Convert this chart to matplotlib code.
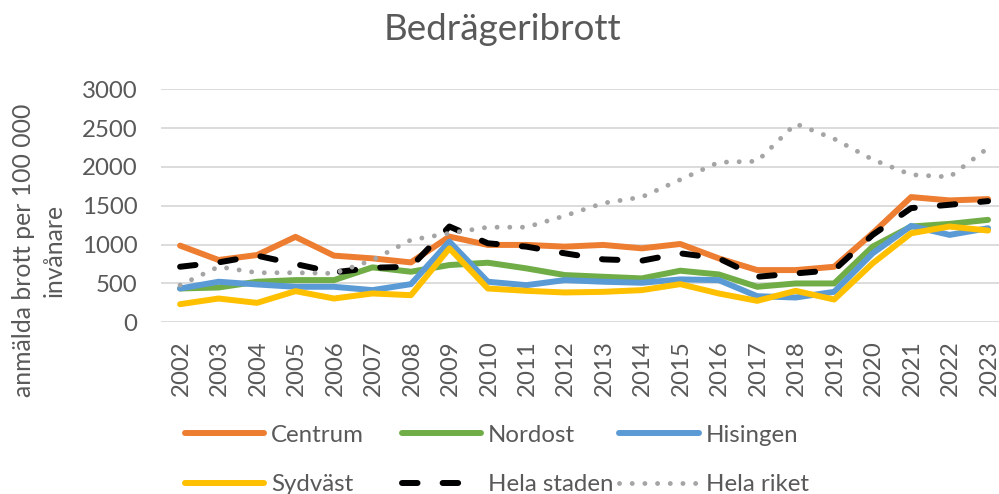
import numpy as np
import matplotlib
matplotlib.use("Agg")
from matplotlib import pyplot as plt
from matplotlib import transforms

years = [str(y) for y in range(2002, 2024)]

centrum = [987, 802, 866, 1100, 858, 823, 771, 1103, 996, 996, 974,
           996, 952, 1008, 823, 672, 672, 715, 1146, 1612, 1569, 1586]
nordost = [435, 448, 522, 543, 543, 707, 651, 737, 767, 694, 608,
           586, 565, 664, 616, 457, 500, 500, 974, 1233, 1267, 1319]
hisingen = [435, 522, 487, 457, 457, 414, 491, 1039, 522, 478, 543,
            522, 509, 552, 543, 336, 319, 392, 888, 1241, 1125, 1211]
sydvast = [233, 306, 250, 401, 306, 371, 349, 952, 435, 405, 384,
           392, 414, 491, 371, 276, 405, 293, 759, 1146, 1233, 1181]
hela_staden = [715, 771, 858, 750, 642, 702, 715, 1233, 1017, 974, 888,
               810, 793, 888, 823, 586, 629, 672, 1125, 1470, 1513, 1560]
hela_riket = [478, 715, 638, 638, 629, 801, 1060, 1146, 1224, 1224, 1371,
              1534, 1612, 1836, 2060, 2073, 2556, 2362, 2095, 1900, 1871, 2245]

TXT = "#595959"
FS = 17.3
plt.rcParams['font.family'] = ['Lato', 'DejaVu Sans']

fig = plt.figure(figsize=(9.99, 4.94), dpi=100)
ax = fig.add_axes([0.161, 0.3476, 0.8473, 0.4717])

x = np.arange(len(years))
lw = 4.3
l1, = ax.plot(x, centrum, color="#ED7D31", lw=lw, solid_capstyle="round", label="Centrum")
l2, = ax.plot(x, nordost, color="#70AD47", lw=lw, solid_capstyle="round", label="Nordost")
l3, = ax.plot(x, hisingen, color="#5B9BD5", lw=lw, solid_capstyle="round", label="Hisingen")
l4, = ax.plot(x, sydvast, color="#FFC000", lw=lw, solid_capstyle="round", label="Sydväst")
l5, = ax.plot(x, hela_staden, color="black", lw=lw, linestyle=(0, (2.6, 4.2)),
              dash_capstyle="round", label="Hela staden")
l6, = ax.plot(x, hela_riket, color="#A5A5A5", lw=3.5, linestyle=(0, (0.01, 2.6)),
              dash_capstyle="round", label="Hela riket")

ax.set_xlim(-0.5, 21.5)
ax.set_ylim(0, 3000)
ax.set_yticks(range(0, 3001, 500))
ax.set_xticks(x)
ax.set_xticklabels(years, rotation=90)
ax.grid(axis="y", color="#D9D9D9", lw=1.3)
ax.set_axisbelow(True)
for s in ax.spines.values():
    s.set_visible(False)
ax.tick_params(axis="both", length=0, labelsize=FS, labelcolor=TXT)
ax.tick_params(axis="y", pad=17)
ax.tick_params(axis="x", pad=13)
off = transforms.ScaledTranslation(1 / 100, 0, fig.dpi_scale_trans)
for lab in ax.get_xticklabels():
    lab.set_transform(lab.get_transform() + off)

fig.text(0.503, 0.94, "Bedrägeribrott", ha="center", va="center",
         fontsize=26.5, color=TXT)
fig.text(0.039, 0.494, "anmälda brott per 100 000\ninvånare", rotation=90,
         ha="center", va="center", multialignment="center",
         fontsize=FS + 0.5, color=TXT, linespacing=1.4)

# one legend per column so the columns sit where the reference has them
cols = [([l1, l4], 0.185), ([l2, l5], 0.402), ([l3, l6], 0.620)]
for handles, xpos in cols:
    leg = fig.legend(handles=handles, loc="center left",
                     bbox_to_anchor=(xpos, 1 - 460 / 494),
                     bbox_transform=fig.transFigure, ncol=1, frameon=False,
                     fontsize=FS, handlelength=3.3, handletextpad=0.3,
                     labelspacing=1.2, borderpad=0, borderaxespad=0)
    for t in leg.get_texts():
        t.set_color(TXT)

fig.savefig("out.png", dpi=100)
